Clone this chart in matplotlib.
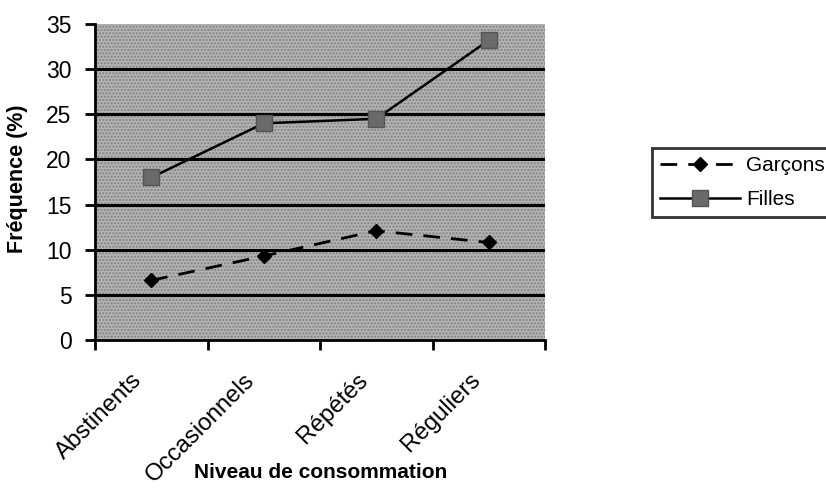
import matplotlib.pyplot as plt
import matplotlib.transforms as mtransforms
import numpy as np

plt.rcParams['font.family'] = ['Liberation Sans', 'DejaVu Sans']

categories = ['Abstinents', 'Occasionnels', 'Répétés', 'Réguliers']
garcons = [6.6, 9.3, 12.1, 10.8]
filles = [18.0, 24.0, 24.5, 33.2]
yticks = [0, 5, 10, 15, 20, 25, 30, 35]

fig = plt.figure(figsize=(8.26, 4.88), dpi=100)
ax = fig.add_axes([95 / 826, 1 - 340 / 488, 450 / 826, 316 / 488])

x = np.arange(len(categories)) + 0.5
ax.set_facecolor('#b3b3b3')
ax.add_patch(plt.Rectangle((0, 0), 1, 1, transform=ax.transAxes, facecolor='none',
                           hatch='.....', edgecolor='#808080', linewidth=0, zorder=0.5))

for yv in yticks[1:-1]:
    ax.axhline(yv, color='black', linewidth=2.2, zorder=1)

ax.plot(x, garcons, color='black', linestyle=(0, (6, 4)), linewidth=2,
        marker='D', markersize=7.5, markerfacecolor='black', markeredgecolor='black',
        label='Garçons', zorder=3)
ax.plot(x, filles, color='black', linestyle='-', linewidth=1.8,
        marker='s', markersize=11, markerfacecolor='#6a6a6a', markeredgecolor='#555555',
        label='Filles', zorder=3)

ax.set_xlim(0, len(categories))
ax.set_ylim(0, 35)
ax.set_yticks(yticks)
ax.set_yticklabels([str(v) for v in yticks], fontsize=16.5)
ax.set_xticks(np.arange(len(categories) + 1))
ax.set_xticklabels([])
ax.tick_params(axis='x', length=7, width=2, direction='out')
ax.tick_params(axis='y', length=7, width=2, direction='out', pad=10)

# category labels, rotated, drawn as text under each category
label_trans = ax.get_xaxis_transform() + mtransforms.ScaledTranslation(-20 / 100, -29 / 100, fig.dpi_scale_trans)
for xi, cat in zip(x, categories):
    ax.text(xi, 0, cat, transform=label_trans, rotation=45, ha='right', va='top',
            rotation_mode='anchor', fontsize=17.3)

for s in ['top', 'right']:
    ax.spines[s].set_visible(False)
ax.spines['left'].set_linewidth(2)
ax.spines['bottom'].set_linewidth(2)

fig.text(18 / 826, 1 - 179 / 488, 'Fréquence (%)', fontsize=15.5, fontweight='bold',
         rotation=90, ha='center', va='center')
fig.text(321 / 826, 1 - 472 / 488, 'Niveau de consommation', fontsize=15, fontweight='bold',
         ha='center', va='center')

leg = fig.legend(loc='upper left', bbox_to_anchor=(652 / 826, 1 - 148 / 488), fontsize=15,
                 frameon=True, fancybox=False, edgecolor='black', handlelength=3.8,
                 handletextpad=0.3, borderpad=0.4, labelspacing=0.7, borderaxespad=0)
leg.get_frame().set_linewidth(2)

fig.savefig('out.png', dpi=100)
